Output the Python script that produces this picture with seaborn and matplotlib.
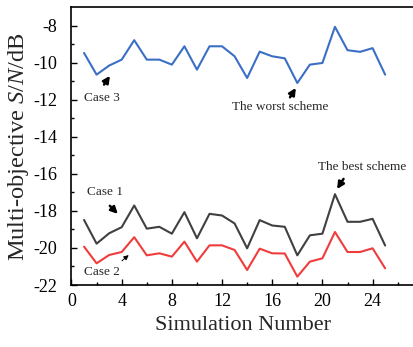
import numpy as np
import pandas as pd
import matplotlib
matplotlib.use("Agg")
import matplotlib.pyplot as plt
import seaborn as sns

sim = list(range(1, 26))
case3 = [-9.48, -10.65, -10.16, -9.84, -8.79, -9.84, -9.84, -10.11, -9.12, -10.38,
         -9.12, -9.12, -9.66, -10.83, -9.41, -9.66, -9.77, -11.10, -10.11, -10.02,
         -8.07, -9.33, -9.42, -9.22, -10.65]
case1 = [-18.49, -19.77, -19.21, -18.88, -17.71, -18.96, -18.86, -19.23, -18.07, -19.48,
         -18.16, -18.25, -18.68, -20.02, -18.50, -18.79, -18.86, -20.40, -19.32, -19.23,
         -17.10, -18.59, -18.59, -18.43, -19.87]
case2 = [-19.93, -20.83, -20.38, -20.22, -19.42, -20.40, -20.29, -20.47, -19.66, -20.74,
         -19.86, -19.86, -20.11, -21.19, -20.04, -20.29, -20.30, -21.55, -20.74, -20.56,
         -19.14, -20.22, -20.22, -20.02, -21.10]

df = pd.DataFrame({
    "Simulation Number": sim * 3,
    "SN": case3 + case1 + case2,
    "Case": ["Case 3"] * 25 + ["Case 1"] * 25 + ["Case 2"] * 25,
})

sns.set_style("ticks")
plt.rcParams["font.family"] = ["Liberation Serif", "DejaVu Serif"]
plt.rcParams["mathtext.fontset"] = "custom"
plt.rcParams["mathtext.rm"] = "Liberation Serif"
plt.rcParams["mathtext.it"] = "Liberation Serif:italic"
plt.rcParams["axes.unicode_minus"] = False

fig = plt.figure(figsize=(4.14, 3.47), dpi=100)
ax = fig.add_axes([71.5 / 414, 62 / 347, 1 - 71.5 / 414, (285 - 7) / 347])

palette = {"Case 3": "#3b6fc6", "Case 1": "#404040", "Case 2": "#f03c3c"}
sns.lineplot(data=df, x="Simulation Number", y="SN", hue="Case", palette=palette,
             linewidth=1.5, legend=False, ax=ax)

ax.set_xlim(0, 27.3)
ax.set_ylim(-22, -7)
ax.set_xticks(np.arange(0, 25, 4))
ax.set_xticks(np.arange(0, 27, 2), minor=True)
ax.set_yticks(np.arange(-22, -7, 2))
ax.set_yticks(np.arange(-22, -7, 1), minor=True)
ax.tick_params(axis="both", which="both", direction="in", labelsize=13, width=1, colors="black")
ax.tick_params(axis="y", which="major", pad=10.5)
ax.tick_params(axis="x", which="major", pad=6)
ax.tick_params(which="major", length=4)
ax.tick_params(which="minor", length=2.5)
ax.spines["right"].set_visible(False)
for s in ["left", "bottom", "top"]:
    ax.spines[s].set_linewidth(1.2)
    ax.spines[s].set_color("black")

ax.set_xlabel("Simulation Number", fontsize=16, labelpad=4)
ax.set_ylabel("Multi-objective $S/N$/dB", fontsize=17.6)
ax.yaxis.set_label_coords(-(71.5 - 31.5) / (414 - 71.5), 0.5)

fs = 9.5
akw = dict(arrowprops=dict(arrowstyle="-|>", color="black", lw=1.8, mutation_scale=10))
ax.annotate("", xy=(3.19, -10.59), xytext=(2.47, -11.31), **akw)
ax.text(2.4, -11.9, "Case 3", fontsize=fs, ha="center", va="center")
ax.annotate("", xy=(18.0, -11.24), xytext=(17.3, -12.0), **akw)
ax.text(16.6, -12.42, "The worst scheme", fontsize=fs, ha="center", va="center")
ax.annotate("", xy=(3.85, -18.27), xytext=(2.9, -17.62), **akw)
ax.text(2.7, -16.99, "Case 1", fontsize=fs, ha="center", va="center")
ax.annotate("", xy=(4.73, -20.29), xytext=(3.85, -20.79),
            arrowprops=dict(arrowstyle="-|>", color="black", lw=0.7, mutation_scale=7))
ax.text(2.4, -21.28, "Case 2", fontsize=fs, ha="center", va="center")
ax.annotate("", xy=(21.05, -16.95), xytext=(21.8, -16.15), **akw)
ax.text(23.2, -15.64, "The best scheme", fontsize=fs, ha="center", va="center")

fig.savefig("out.png", dpi=100)
